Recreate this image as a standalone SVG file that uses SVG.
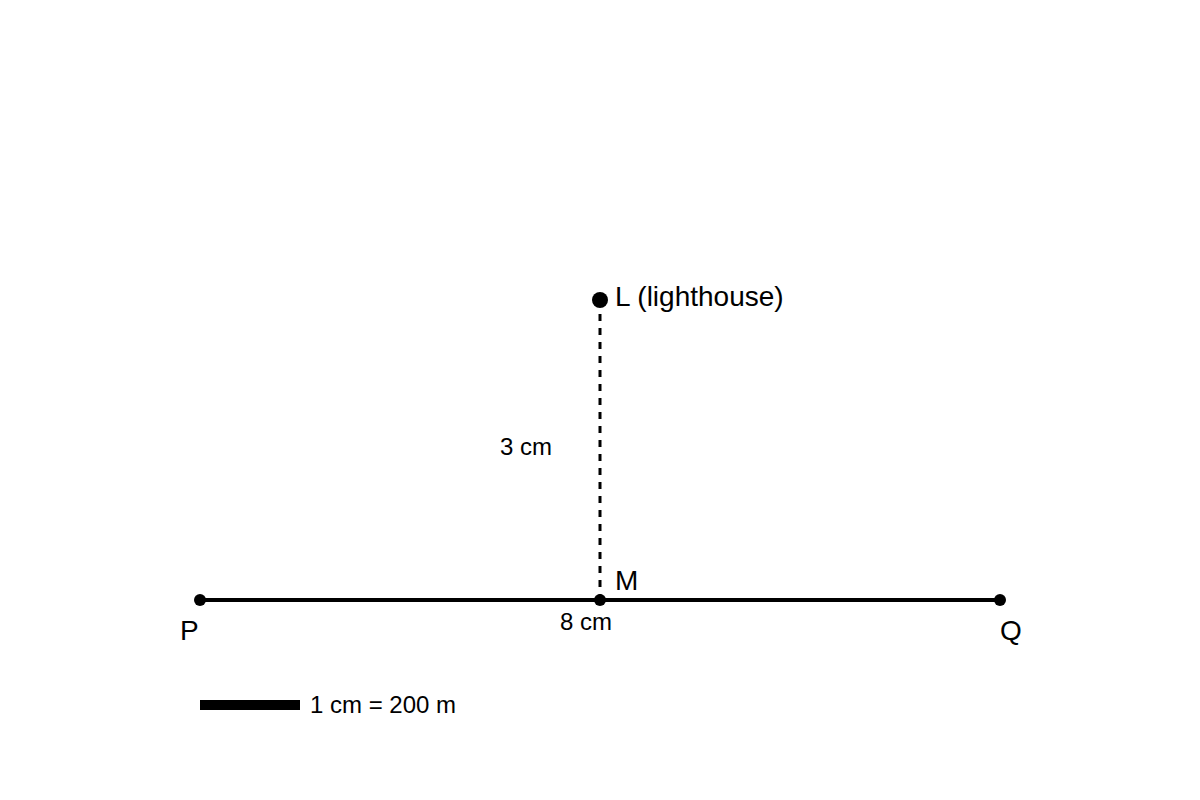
<svg xmlns="http://www.w3.org/2000/svg" width="1200" height="800" viewBox="0 0 1200 800">
<style>
.lbl{font-family:"Liberation Sans",Arial,sans-serif;fill:#000}
.big{font-size:28px}
.sm{font-size:24px}
</style>
<rect width="1200" height="800" fill="#fff"/>
<g id="connectors">
<line x1="200" y1="600" x2="1000" y2="600" stroke="#000" stroke-width="4"/>
<line x1="600" y1="300" x2="600" y2="600" stroke="#000" stroke-width="3" stroke-dasharray="7,7"/>
</g>
<g id="L"><circle cx="600" cy="300" r="8"/><text class="lbl big" x="615" y="306">L (lighthouse)</text></g>
<g id="M"><circle cx="600" cy="600" r="6"/><text class="lbl big" x="615" y="590">M</text></g>
<g id="P"><circle cx="200" cy="600" r="6"/><text class="lbl big" x="180" y="640">P</text></g>
<g id="Q"><circle cx="1000" cy="600" r="6"/><text class="lbl big" x="1000" y="640">Q</text></g>
<text class="lbl sm" x="500" y="455">3 cm</text>
<text class="lbl sm" x="586" y="630" text-anchor="middle">8 cm</text>
<g id="scale"><rect x="200" y="700" width="100" height="10" fill="#000"/><text class="lbl sm" x="310" y="713">1 cm = 200 m</text></g>
</svg>
